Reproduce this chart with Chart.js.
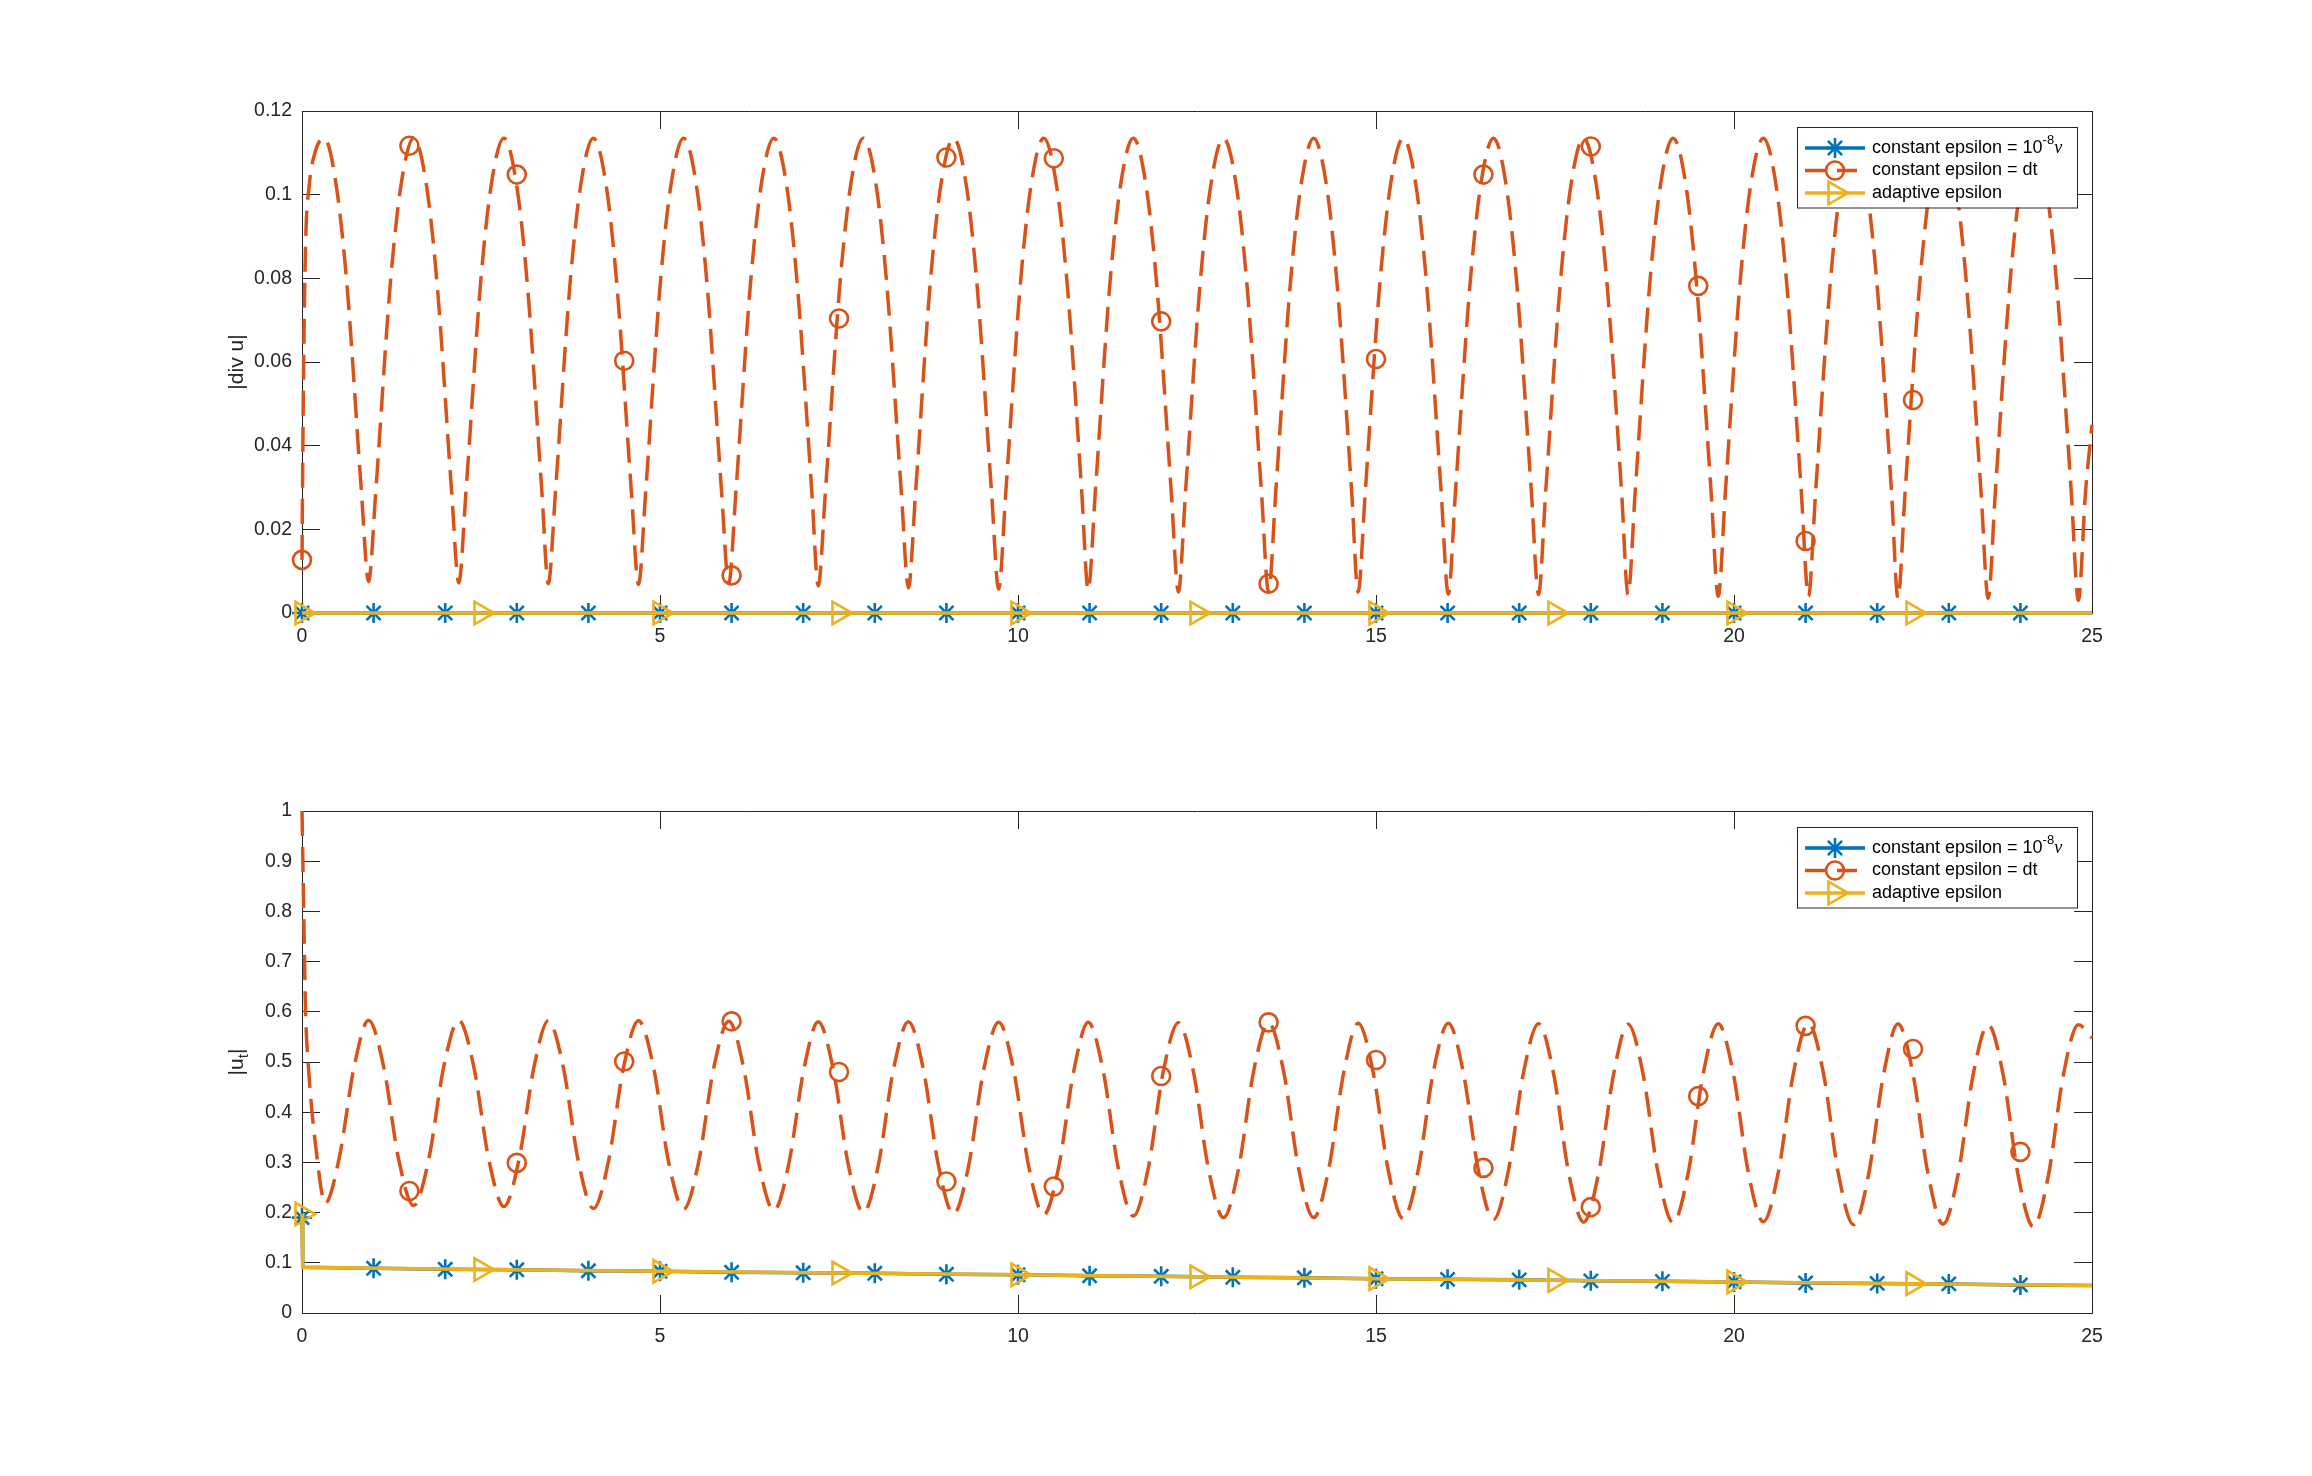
<!DOCTYPE html>
<html>
<head>
<meta charset="utf-8">
<style>
  html, body { margin: 0; padding: 0; background: #ffffff; }
  #wrap { position: relative; width: 2312px; height: 1476px; background: #ffffff; overflow: hidden; }
  #wrap canvas { position: absolute; left: 0; }
</style>
<script src="https://cdn.jsdelivr.net/npm/chart.js@4.4.1/dist/chart.umd.min.js"></script>
</head>
<body>
<div id="wrap">
  <canvas id="cDiv" width="2312" height="738" style="top:0px"></canvas>
  <canvas id="cUt" width="2312" height="738" style="top:738px"></canvas>
</div>
<script>
// ---------------- DATA ----------------
const seriesLabels = ['constant epsilon = 10^{-8}\u03BD', 'constant epsilon = dt', 'adaptive epsilon'];
const yTitles = ['|div u|', '|u_{t}|'];

const xTicks = [0, 5, 10, 15, 20, 25];
const xTickLabels = ['0', '5', '10', '15', '20', '25'];
const divTicks = [0, 0.02, 0.04, 0.06, 0.08, 0.1, 0.12];
const divTickLabels = ['0', '0.02', '0.04', '0.06', '0.08', '0.1', '0.12'];
const utTicks = [0, 0.1, 0.2, 0.3, 0.4, 0.5, 0.6, 0.7, 0.8, 0.9, 1];
const utTickLabels = ['0', '0.1', '0.2', '0.3', '0.4', '0.5', '0.6', '0.7', '0.8', '0.9', '1'];

// constant epsilon = 1e-8 nu (blue)
const tBlue = [0, 0.01, 1, 2, 3, 4, 5, 6, 7, 8, 9, 10, 11, 12, 13, 14, 15, 16, 17, 18, 19, 20, 21, 22, 23, 24, 25];
const divBlue = [0, 0, 0, 0, 0, 0, 0, 0, 0, 0, 0, 0, 0, 0, 0, 0, 0, 0, 0, 0, 0, 0, 0, 0, 0, 0, 0];
const utBlue = [0.19, 0.091, 0.089, 0.087, 0.086, 0.084, 0.083, 0.081, 0.080, 0.079, 0.077, 0.076, 0.074, 0.073,
                0.071, 0.070, 0.068, 0.067, 0.066, 0.064, 0.063, 0.062, 0.060, 0.059, 0.058, 0.056, 0.055];
const tBlueMarks = [0, 1, 2, 3, 4, 5, 6, 7, 8, 9, 10, 11, 12, 13, 14, 15, 16, 17, 18, 19, 20, 21, 22, 23, 24];

// adaptive epsilon (yellow)
const tYel = [0, 0.01, 2.5, 5, 7.5, 10, 12.5, 15, 17.5, 20, 22.5, 25];
const divYel = [0, 0, 0, 0, 0, 0, 0, 0, 0, 0, 0, 0];
const utYel = [0.197, 0.091, 0.0865, 0.083, 0.0795, 0.076, 0.072, 0.068, 0.065, 0.062, 0.0585, 0.055];
const tYelMarks = [0, 2.5, 5, 7.5, 10, 12.5, 15, 17.5, 20, 22.5];

// constant epsilon = dt (red), |div u| curve as [t, value]
const divDt = [
  [0, 0.0127], [0.02, 0.055], [0.05, 0.088], [0.10, 0.102], [0.18, 0.110], [0.31, 0.1135], [0.48, 0.102], [0.63, 0.078], [0.83, 0.029], [0.93, 0.0075],
  [1.03, 0.029], [1.23, 0.078], [1.38, 0.102], [1.56, 0.1135], [1.74, 0.102], [1.89, 0.078], [2.09, 0.029], [2.19, 0.0072],
  [2.29, 0.029], [2.49, 0.078], [2.64, 0.102], [2.82, 0.1135], [3.00, 0.102], [3.15, 0.078], [3.35, 0.029], [3.44, 0.0070],
  [3.54, 0.029], [3.74, 0.078], [3.89, 0.102], [4.07, 0.1135], [4.25, 0.102], [4.40, 0.078], [4.60, 0.029], [4.70, 0.0068],
  [4.80, 0.029], [5.00, 0.078], [5.15, 0.102], [5.33, 0.1135], [5.51, 0.102], [5.66, 0.078], [5.86, 0.029], [5.96, 0.0070],
  [6.06, 0.029], [6.26, 0.078], [6.41, 0.102], [6.59, 0.1135], [6.77, 0.102], [6.92, 0.078], [7.12, 0.029], [7.21, 0.0065],
  [7.31, 0.029], [7.51, 0.078], [7.66, 0.102], [7.84, 0.1135], [8.02, 0.102], [8.17, 0.078], [8.37, 0.029], [8.47, 0.0060],
  [8.57, 0.029], [8.77, 0.078], [8.92, 0.102], [9.10, 0.1135], [9.28, 0.102], [9.43, 0.078], [9.63, 0.029], [9.73, 0.0057],
  [9.83, 0.029], [10.03, 0.078], [10.18, 0.102], [10.36, 0.1135], [10.54, 0.102], [10.69, 0.078], [10.89, 0.029], [10.98, 0.0055],
  [11.08, 0.029], [11.28, 0.078], [11.43, 0.102], [11.61, 0.1135], [11.79, 0.102], [11.94, 0.078], [12.14, 0.029], [12.24, 0.0050],
  [12.34, 0.029], [12.54, 0.078], [12.69, 0.102], [12.87, 0.1135], [13.05, 0.102], [13.20, 0.078], [13.40, 0.029], [13.50, 0.0050],
  [13.60, 0.029], [13.80, 0.078], [13.95, 0.102], [14.13, 0.1135], [14.31, 0.102], [14.46, 0.078], [14.66, 0.029], [14.75, 0.0050],
  [14.85, 0.029], [15.05, 0.078], [15.20, 0.102], [15.38, 0.1135], [15.56, 0.102], [15.71, 0.078], [15.91, 0.029], [16.01, 0.0045],
  [16.11, 0.029], [16.31, 0.078], [16.46, 0.102], [16.64, 0.1135], [16.82, 0.102], [16.97, 0.078], [17.17, 0.029], [17.27, 0.0044],
  [17.37, 0.029], [17.57, 0.078], [17.72, 0.102], [17.90, 0.1135], [18.08, 0.102], [18.23, 0.078], [18.43, 0.029], [18.52, 0.0044],
  [18.62, 0.029], [18.82, 0.078], [18.97, 0.102], [19.15, 0.1135], [19.33, 0.102], [19.48, 0.078], [19.68, 0.029], [19.78, 0.0040],
  [19.88, 0.029], [20.08, 0.078], [20.23, 0.102], [20.41, 0.1135], [20.59, 0.102], [20.74, 0.078], [20.94, 0.029], [21.04, 0.0040],
  [21.14, 0.029], [21.34, 0.078], [21.49, 0.102], [21.67, 0.1135], [21.85, 0.102], [22.00, 0.078], [22.20, 0.029], [22.29, 0.0035],
  [22.39, 0.029], [22.59, 0.078], [22.74, 0.102], [22.92, 0.1135], [23.10, 0.102], [23.25, 0.078], [23.45, 0.029], [23.55, 0.0035],
  [23.65, 0.029], [23.85, 0.078], [24.00, 0.102], [24.18, 0.1135], [24.36, 0.102], [24.51, 0.078], [24.71, 0.029], [24.81, 0.0030],
  [24.91, 0.029], [25.00, 0.045]
];
const tRedMarksDiv = [0, 1.5, 3, 4.5, 6, 7.5, 9, 10.5, 12, 13.5, 15, 16.5, 18, 19.5, 21, 22.5, 24];
const divRedMarks = [0.0127, 0.1117, 0.1048, 0.0603, 0.009, 0.0704, 0.1089, 0.1087, 0.0697, 0.007, 0.0607, 0.1048, 0.1115, 0.0782, 0.0172, 0.0509, 0.107];

// constant epsilon = dt (red), |u_t| curve as [t, value]
const utDt = [
  [0, 1.0], [0.03, 0.75], [0.05, 0.60], [0.09, 0.49], [0.14, 0.40], [0.21, 0.31], [0.27, 0.245],
  [0.32, 0.218], [0.52, 0.309], [0.73, 0.492], [0.93, 0.583], [1.14, 0.491], [1.35, 0.306],
  [1.56, 0.214], [1.77, 0.306], [1.98, 0.491], [2.19, 0.583], [2.40, 0.490], [2.61, 0.305],
  [2.82, 0.212], [3.03, 0.305], [3.24, 0.490], [3.44, 0.582], [3.65, 0.489], [3.86, 0.302],
  [4.07, 0.208], [4.28, 0.302], [4.49, 0.489], [4.70, 0.582], [4.91, 0.489], [5.12, 0.301],
  [5.33, 0.207], [5.54, 0.301], [5.75, 0.488], [5.96, 0.581], [6.17, 0.487], [6.38, 0.298],
  [6.59, 0.204], [6.80, 0.298], [7.01, 0.486], [7.21, 0.580], [7.42, 0.485], [7.63, 0.295],
  [7.84, 0.200], [8.05, 0.295], [8.26, 0.485], [8.47, 0.580], [8.68, 0.484], [8.89, 0.293],
  [9.10, 0.197], [9.31, 0.293], [9.52, 0.484], [9.73, 0.579], [9.94, 0.483], [10.15, 0.292],
  [10.36, 0.196], [10.57, 0.292], [10.78, 0.483], [10.98, 0.579], [11.19, 0.482], [11.40, 0.289],
  [11.61, 0.193], [11.82, 0.289], [12.03, 0.482], [12.24, 0.578], [12.45, 0.481], [12.66, 0.287],
  [12.87, 0.190], [13.08, 0.287], [13.29, 0.481], [13.50, 0.578], [13.71, 0.481], [13.92, 0.287],
  [14.13, 0.190], [14.34, 0.287], [14.55, 0.480], [14.75, 0.577], [14.96, 0.480], [15.17, 0.285],
  [15.38, 0.188], [15.59, 0.285], [15.80, 0.480], [16.01, 0.577], [16.22, 0.479], [16.43, 0.284],
  [16.64, 0.186], [16.85, 0.284], [17.06, 0.479], [17.27, 0.576], [17.48, 0.477], [17.69, 0.280],
  [17.90, 0.181], [18.11, 0.280], [18.32, 0.477], [18.52, 0.575], [18.73, 0.476], [18.94, 0.279],
  [19.15, 0.180], [19.36, 0.279], [19.57, 0.477], [19.78, 0.576], [19.99, 0.477], [20.20, 0.280],
  [20.41, 0.182], [20.62, 0.281], [20.83, 0.478], [21.04, 0.577], [21.25, 0.477], [21.46, 0.276],
  [21.67, 0.176], [21.88, 0.276], [22.09, 0.476], [22.29, 0.576], [22.50, 0.476], [22.71, 0.277],
  [22.92, 0.177], [23.13, 0.276], [23.34, 0.475], [23.55, 0.574], [23.76, 0.474], [23.97, 0.273],
  [24.18, 0.172], [24.39, 0.273], [24.60, 0.474], [24.81, 0.574], [25.00, 0.548]
];
const tRedMarksUt = [1.5, 3, 4.5, 6, 7.5, 9, 10.5, 12, 13.5, 15, 16.5, 18, 19.5, 21, 22.5, 24];
const utRedMarks = [0.243, 0.299, 0.501, 0.581, 0.480, 0.262, 0.252, 0.472, 0.579, 0.504, 0.289, 0.211, 0.432, 0.572, 0.526, 0.321];

// ---------------- STYLE ----------------
const FONT = '"Liberation Sans", Arial, Helvetica, sans-serif';
const AX = '#262626';
const BLUE = '#0072BD', RED = '#D95319', YEL = '#EDB120';
const LW = 3.5, MKW = 2.6;
const RED_DASH = [25, 11];
const TICK_FONT = 19.5, TITLE_FONT = 21, LEGEND_FONT = 18;

Chart.defaults.font.family = FONT;

function pts(ts, vs) { return ts.map((t, i) => ({ x: t, y: vs[i] })); }
function fromPairs(arr) { return arr.map(p => ({ x: p[0], y: p[1] })); }
function pick(ts, vs, marks) {
  const out = [];
  ts.forEach((t, i) => { if (marks.includes(t)) out.push({ x: t, y: vs[i] }); });
  return out;
}

const seriesStyle = [
  { color: BLUE, dash: [], marker: 'star' },
  { color: RED, dash: [20, 12], marker: 'circle' },
  { color: YEL, dash: [], marker: 'tri' }
];

function drawMarker(ctx, kind, x, y, color) {
  ctx.save();
  ctx.strokeStyle = color; ctx.lineWidth = MKW; ctx.setLineDash([]);
  ctx.beginPath();
  if (kind === 'star') {
    const r = 10;
    for (let k = 0; k < 4; k++) {
      const a = k * Math.PI / 4;
      ctx.moveTo(x - Math.cos(a) * r, y - Math.sin(a) * r);
      ctx.lineTo(x + Math.cos(a) * r, y + Math.sin(a) * r);
    }
  } else if (kind === 'circle') {
    ctx.arc(x, y, 9, 0, Math.PI * 2);
  } else {
    const r = 13;
    ctx.moveTo(x + r, y);
    ctx.lineTo(x - r / 2, y - r * 0.866);
    ctx.lineTo(x - r / 2, y + r * 0.866);
    ctx.closePath();
  }
  ctx.stroke();
  ctx.restore();
}

// text with ^{..} superscripts and _{..} subscripts
function richParts(str) {
  const parts = [];
  const re = /(\^|_)\{([^}]*)\}/g;
  let last = 0, m;
  while ((m = re.exec(str)) !== null) {
    if (m.index > last) parts.push({ t: str.slice(last, m.index), k: 'n' });
    parts.push({ t: m[2], k: m[1] === '^' ? 'sup' : 'sub' });
    last = re.lastIndex;
  }
  if (last < str.length) parts.push({ t: str.slice(last), k: 'n' });
  return parts;
}
function partFont(p, size) {
  if (p.k !== 'n') return Math.round(size * 0.7) + 'px ' + FONT;
  if (/[\u03B1-\u03C9]/.test(p.t)) return 'italic ' + size + 'px "Liberation Serif", "DejaVu Serif", serif';
  return size + 'px ' + FONT;
}
function drawRich(ctx, str, x, y, size, measureOnly) {
  let parts = [];
  richParts(str).forEach(p => {
    if (p.k === 'n') {
      p.t.split(/([\u03B1-\u03C9])/).filter(s => s.length).forEach(s => parts.push({ t: s, k: 'n' }));
    } else parts.push(p);
  });
  let cx = x;
  parts.forEach(p => {
    ctx.font = partFont(p, size);
    const w = ctx.measureText(p.t).width;
    if (!measureOnly) {
      const dy = p.k === 'sup' ? -size * 0.42 : (p.k === 'sub' ? size * 0.32 : 0);
      ctx.fillText(p.t, cx, y + dy);
    }
    cx += w;
  });
  return cx - x;
}

const legendPlugin = {
  id: 'matlabLegend',
  afterDraw(chart) {
    const ctx = chart.ctx, a = chart.chartArea;
    const w = 280, h = 80.5;
    const x0 = Math.round(a.right - 15 - w), y0 = Math.round(a.top + 16);
    ctx.save();
    ctx.fillStyle = '#ffffff';
    ctx.fillRect(x0, y0, w, h);
    ctx.strokeStyle = AX; ctx.lineWidth = 1;
    ctx.strokeRect(x0 + 0.5, y0 + 0.5, w, h);
    seriesLabels.forEach((lab, i) => {
      const s = seriesStyle[i];
      const cy = y0 + 21 + i * 22.5;
      ctx.strokeStyle = s.color; ctx.lineWidth = LW; ctx.setLineDash(s.dash); ctx.lineDashOffset = 0;
      ctx.beginPath(); ctx.moveTo(x0 + 8, cy); ctx.lineTo(x0 + 68, cy); ctx.stroke();
      ctx.setLineDash([]);
      drawMarker(ctx, s.marker, x0 + 38, cy, s.color);
      ctx.fillStyle = '#000000';
      ctx.textBaseline = 'middle'; ctx.textAlign = 'left';
      drawRich(ctx, lab, x0 + 75, cy, LEGEND_FONT, false);
    });
    ctx.restore();
  }
};

const yTitlePlugin = {
  id: 'yTitle',
  afterDraw(chart, args, opts) {
    const ctx = chart.ctx, a = chart.chartArea;
    ctx.save();
    ctx.fillStyle = AX;
    ctx.textBaseline = 'middle'; ctx.textAlign = 'left';
    ctx.translate(opts.x, (a.top + a.bottom) / 2);
    ctx.rotate(-Math.PI / 2);
    const w = drawRich(ctx, opts.text, 0, 0, TITLE_FONT, true);
    drawRich(ctx, opts.text, -w / 2, 0, TITLE_FONT, false);
    ctx.restore();
  }
};

function axis(position, min, max, ticks, labels, fitSize, showLabels, pad) {
  const horizontal = position === 'top' || position === 'bottom';
  return {
    type: 'linear', position, min, max,
    afterBuildTicks: s => { s.ticks = ticks.map(v => ({ value: v })); },
    afterFit: s => { if (horizontal) s.height = fitSize; else s.width = fitSize; },
    ticks: {
      display: showLabels,
      autoSkip: false, maxRotation: 0, minRotation: 0,
      color: AX, padding: pad,
      font: { family: FONT, size: TICK_FONT },
      callback: (v, i) => labels[i]
    },
    grid: { display: true, drawOnChartArea: false, drawTicks: true, tickLength: -18, color: AX, lineWidth: 1 },
    border: { display: true, color: AX, width: 1 }
  };
}

function makeChart(id, yMax, yTicks, yLabels, datasets, pad, title) {
  return new Chart(document.getElementById(id), {
    type: 'line',
    data: { datasets },
    options: {
      responsive: false, maintainAspectRatio: false, animation: false, devicePixelRatio: 1,
      events: [],
      layout: { padding: pad },
      plugins: { legend: { display: false }, tooltip: { enabled: false }, yTitle: { x: 237, text: title } },
      scales: {
        x: axis('bottom', 0, 25, xTicks, xTickLabels, 50, true, 30),
        x2: axis('top', 0, 25, xTicks, xTickLabels, 0, false, 0),
        y: axis('left', 0, yMax, yTicks, yLabels, 302, true, 28),
        y2: axis('right', 0, yMax, yTicks, yLabels, 0, false, 0)
      }
    },
    plugins: [yTitlePlugin, legendPlugin]
  });
}

function buildSets(blueLine, blueMk, redLine, redMk, yelLine, yelMk) {
  const common = { clip: false, parsing: true };
  return [
    Object.assign({ data: blueLine, borderColor: BLUE, borderWidth: LW, pointRadius: 0, tension: 0, order: 6 }, common),
    Object.assign({ data: blueMk, showLine: false, pointStyle: 'star', pointRadius: 10, pointBorderWidth: MKW,
      pointBorderColor: BLUE, pointBackgroundColor: BLUE, order: 5 }, common),
    Object.assign({ data: redLine, borderColor: RED, borderWidth: LW, borderDash: RED_DASH, pointRadius: 0,
      cubicInterpolationMode: 'monotone', order: 4 }, common),
    Object.assign({ data: redMk, showLine: false, pointStyle: 'circle', pointRadius: 9, pointBorderWidth: MKW,
      pointBorderColor: RED, pointBackgroundColor: 'rgba(0,0,0,0)', order: 3 }, common),
    Object.assign({ data: yelLine, borderColor: YEL, borderWidth: LW, pointRadius: 0, tension: 0, order: 2 }, common),
    Object.assign({ data: yelMk, showLine: false, pointStyle: 'triangle', pointRotation: 90, pointRadius: 13, pointBorderWidth: MKW,
      pointBorderColor: YEL, pointBackgroundColor: 'rgba(0,0,0,0)', order: 1 }, common)
  ];
}

makeChart('cDiv', 0.12, divTicks, divTickLabels,
  buildSets(pts(tBlue, divBlue), pick(tBlue, divBlue, tBlueMarks),
            fromPairs(divDt), pts(tRedMarksDiv, divRedMarks),
            pts(tYel, divYel), pick(tYel, divYel, tYelMarks)),
  { left: 0, right: 220, top: 111, bottom: 75 }, yTitles[0]);

makeChart('cUt', 1, utTicks, utTickLabels,
  buildSets(pts(tBlue, utBlue), pick(tBlue, utBlue, tBlueMarks),
            fromPairs(utDt), pts(tRedMarksUt, utRedMarks),
            pts(tYel, utYel), pick(tYel, utYel, tYelMarks)),
  { left: 0, right: 220, top: 73, bottom: 113 }, yTitles[1]);
</script>
</body>
</html>
